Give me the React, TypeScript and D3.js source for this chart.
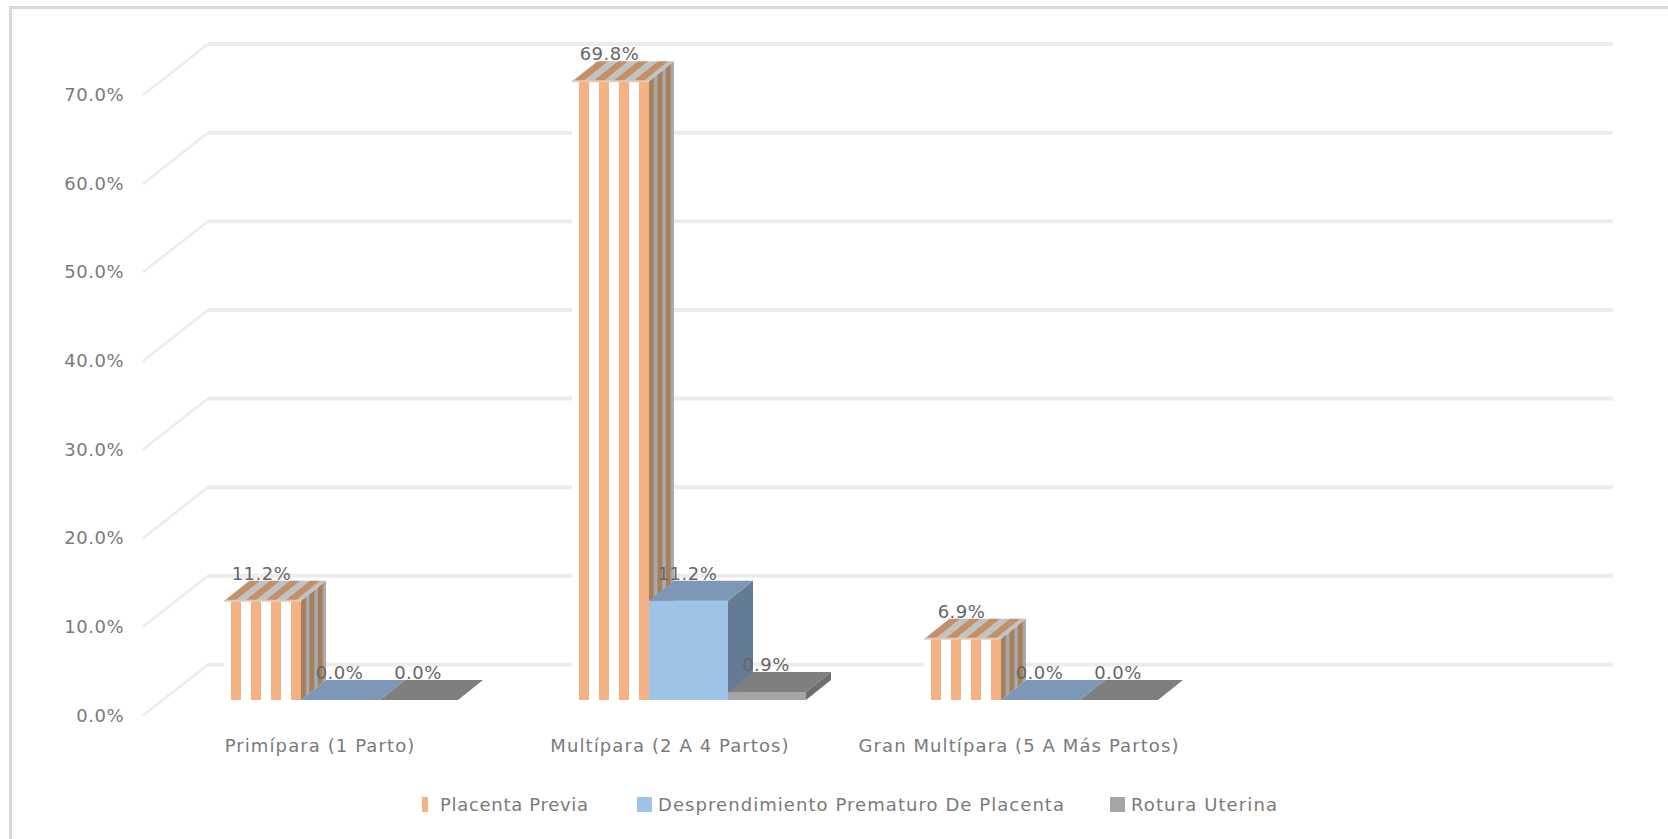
import React from "react";
import * as d3 from "d3";

// Obstetric haemorrhage causes by parity group, in percent of cases
const categories = ["Primípara (1 Parto)", "Multípara (2 A 4 Partos)", "Gran Multípara (5 A Más Partos)"];
const seriesNames = ["Placenta Previa", "Desprendimiento Prematuro De Placenta", "Rotura Uterina"];
const placentaPrevia = [11.2, 69.8, 6.9];
const desprendimiento = [0.0, 11.2, 0.0];
const roturaUterina = [0.0, 0.9, 0.0];
const axisTicks = [0, 10, 20, 30, 40, 50, 60, 70];

const seriesValues = [placentaPrevia, desprendimiento, roturaUterina];
const W = 1668;
const H = 839;

// Depth of the floor and of one bar in the oblique projection
const floorDx = 65;
const floorDy = 51;
const barDx = 25;
const barDy = 20;

const barHeight = d3.scaleLinear().domain([0, 70]).range([0, 620.5]);
const backY = (v: number) => 664.5 - barHeight(v);
const groupX = d3.scaleOrdinal<number, number>().domain([0, 1, 2]).range([224, 572, 924]);
const categoryX = d3.scaleOrdinal<number, number>().domain([0, 1, 2]).range([320, 670, 1019]);
const seriesOffset = [0, 77, 156];
const seriesWidth = [77, 79, 78];
const barBase = 700;

const front = ["#f4b183", "#9dc3e6", "#a5a5a5"];
const topFace = ["#c4906a", "#7d97b8", "#7f7f7f"];
const sideFace = ["#a5805f", "#647b96", "#6e6e6e"];

const labelColor = "#7a7a7a";
const font = "'DejaVu Sans', sans-serif";

const poly = (pts: [number, number][]) => pts.map((p) => p.join(",")).join(" ");

export default function App() {
  return (
    <svg
      width={W}
      height={H}
      viewBox={`0 0 ${W} ${H}`}
      style={{ position: "absolute", left: 0, top: 0, background: "#fff", fontFamily: font, letterSpacing: 0.5 }}
    >
      <defs>
        {categories.map((_, g) => {
          const right = groupX(g) + seriesWidth[0];
          const topY = barBase - barHeight(placentaPrevia[g]);
          return (
            <g key={g}>
              <pattern id={`front${g}`} patternUnits="userSpaceOnUse" width={20} height={10}
                patternTransform={`translate(${right},0)`}>
                <rect width={20} height={10} fill="#fff" />
                <rect x={10} width={10} height={10} fill={front[0]} />
              </pattern>
              <pattern id={`top${g}`} patternUnits="userSpaceOnUse" width={20} height={40}
                patternTransform={`translate(${right - 6},${topY}) skewX(${(-Math.atan2(barDx, barDy) * 180) / Math.PI})`}>
                <rect width={20} height={40} fill="#c2c2c2" />
                <rect x={10} width={10} height={40} fill={topFace[0]} />
              </pattern>
              <pattern id={`side${g}`} patternUnits="userSpaceOnUse" width={8.4} height={40}
                patternTransform={`translate(${right},0)`}>
                <rect width={8.4} height={40} fill="#ababab" />
                <rect width={5} height={40} fill={sideFace[0]} />
              </pattern>
            </g>
          );
        })}
      </defs>

      {/* The frame shows along the top and left edges only */}
      <polyline points={poly([[10.5, H], [10.5, 7.5], [W, 7.5]])} fill="none" stroke="#d9d9d9" strokeWidth={3} />

      {/* Back-wall gridlines with their floor-side returns */}
      {axisTicks.map((t) => (
        <g key={t} fill="none" stroke="#ececec">
          <line x1={143} y1={backY(t) + floorDy} x2={143 + floorDx} y2={backY(t)} strokeWidth={2.5} />
          <line x1={143 + floorDx} y1={backY(t)} x2={1613} y2={backY(t)} strokeWidth={4} />
        </g>
      ))}

      {/* Axis tick labels */}
      {axisTicks.map((t) => (
        <text key={t} x={124} y={backY(t) + floorDy + 6} textAnchor="end" fontSize={18} fill={labelColor}>
          {t.toFixed(1)}%
        </text>
      ))}

      {/* Bars, back to front within each group */}
      {categories.map((_, g) =>
        seriesValues.map((vals, s) => {
          const x0 = groupX(g) + seriesOffset[s];
          const barW = seriesWidth[s];
          const h = barHeight(vals[g]);
          const y0 = barBase - h;
          const isStriped = s === 0;
          return (
            <g key={`${g}-${s}`}>
              <rect x={x0} y={y0} width={barW} height={h}
                fill={isStriped ? `url(#front${g})` : front[s]} />
              <polygon
                points={poly([
                  [x0 + barW, y0],
                  [x0 + barW + barDx, y0 - barDy],
                  [x0 + barW + barDx, barBase - barDy],
                  [x0 + barW, barBase],
                ])}
                fill={isStriped ? `url(#side${g})` : sideFace[s]}
              />
              <polygon
                points={poly([
                  [x0, y0],
                  [x0 + barW, y0],
                  [x0 + barW + barDx, y0 - barDy],
                  [x0 + barDx, y0 - barDy],
                ])}
                fill={isStriped ? `url(#top${g})` : topFace[s]}
              />
              {isStriped && (
                <line x1={x0} y1={y0} x2={x0 + barW} y2={y0} stroke="#e8c8b0" strokeWidth={2} />
              )}
            </g>
          );
        })
      )}

      {/* Value labels above each bar */}
      {categories.map((_, g) =>
        seriesValues.map((vals, s) => (
          <text
            key={`${g}-${s}`}
            x={groupX(g) + seriesOffset[s] + seriesWidth[s] / 2 - 1}
            y={barBase - barHeight(vals[g]) - barDy - 1}
            textAnchor="middle"
            fontSize={18}
            fill="#666"
          >
            {vals[g].toFixed(1)}%
          </text>
        ))
      )}

      {/* Category labels */}
      {categories.map((c, g) => (
        <text key={c} x={categoryX(g)} y={752} textAnchor="middle" fontSize={18} fill={labelColor}
          style={{ letterSpacing: 1.1 }}>
          {c}
        </text>
      ))}

      {/* Legend */}
      {[
        { swatch: 422, w: 6, text: 440, len: 148 },
        { swatch: 637, w: 15, text: 658, len: 406 },
        { swatch: 1110, w: 15, text: 1131, len: 146 },
      ].map((l, i) => (
        <g key={i}>
          <rect x={l.swatch} y={797} width={l.w} height={15} fill={front[i]} />
          <text x={l.text} y={811} fontSize={18} fill={labelColor} textLength={l.len} lengthAdjust="spacing"
            style={{ letterSpacing: 0 }}>
            {seriesNames[i]}
          </text>
        </g>
      ))}
    </svg>
  );
}
